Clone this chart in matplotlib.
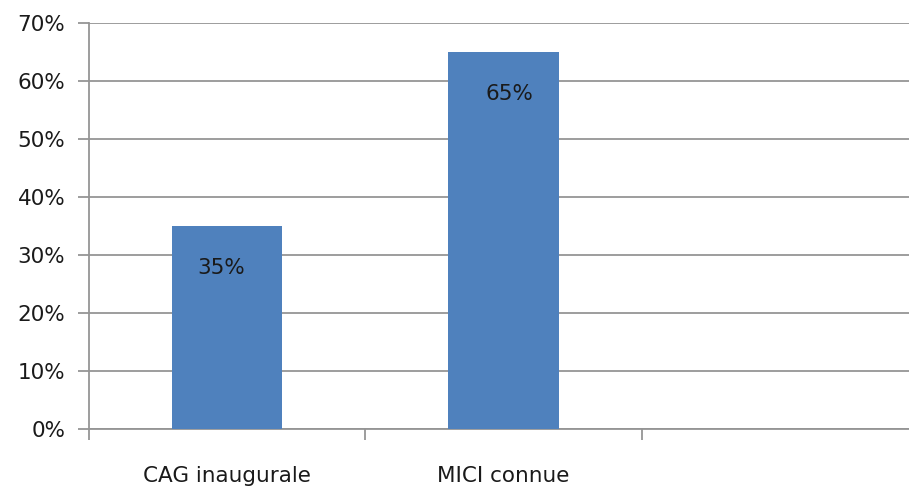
import matplotlib
matplotlib.use("Agg")
import matplotlib.pyplot as plt
from matplotlib.ticker import PercentFormatter

categories = ["CAG inaugurale", "MICI connue", ""]
values = [35, 65, None]
yticks = [0, 10, 20, 30, 40, 50, 60, 70]

plt.rcParams['font.family'] = ['DejaVu Sans']

fig = plt.figure(figsize=(9.09, 4.88), dpi=100)
W, H = 909, 488
x0, x1 = 89, 918
y0, y1 = 429, 23
ax = fig.add_axes([x0 / W, (H - y0) / H, (x1 - x0) / W, (y0 - y1) / H])
ax.set_clip_on(False)

grid_col = "#959595"
bar_col = "#4F81BD"
txt_col = "#1a1a1a"
fs = 15.5
lw = 1.3
label_dx = [-0.022, 0.022]

xs = [i for i, v in enumerate(values) if v is not None]
vs = [v for v in values if v is not None]
bars = ax.bar(xs, vs, width=0.4, color=bar_col, zorder=3)

for x, v, dx in zip(xs, vs, label_dx):
    ax.text(x + dx, v - 7.2, f"{v}%", ha="center", va="center",
            fontsize=fs, color=txt_col, zorder=4)

ax.set_xlim(-0.5, len(categories) - 0.5)
ax.set_ylim(0, 70)
ax.set_yticks(yticks)
ax.yaxis.set_major_formatter(PercentFormatter(decimals=0))
ax.set_xticks([i - 0.5 for i in range(len(categories))])
ax.set_xticklabels([])
ax.set_xticks(range(len(categories)), minor=True)
ax.set_xticklabels(categories, minor=True)
ax.tick_params(axis="x", which="minor", length=0, pad=27, labelsize=fs, colors=txt_col)
ax.tick_params(axis="x", which="major", length=8, width=lw, color=grid_col)
ax.tick_params(axis="y", length=8, width=lw, color=grid_col, labelsize=fs,
               labelcolor=txt_col, pad=9)

ax.yaxis.grid(True, color=grid_col, linewidth=lw, zorder=0)
for s in ["top", "right"]:
    ax.spines[s].set_visible(False)
ax.spines["left"].set_color(grid_col)
ax.spines["left"].set_linewidth(lw)
ax.spines["bottom"].set_color(grid_col)
ax.spines["bottom"].set_linewidth(lw)

fig.savefig("out.png", dpi=100)
